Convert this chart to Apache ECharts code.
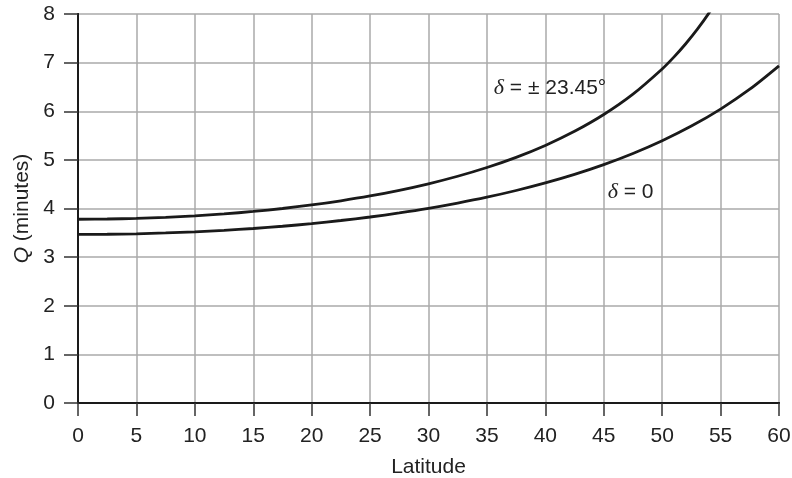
<!DOCTYPE html>
<html>
<head>
<meta charset="utf-8">
<script src="https://cdn.jsdelivr.net/npm/echarts@6/dist/echarts.min.js"></script>
<style>
html,body{margin:0;padding:0;background:#fff;}
#chart{width:792px;height:478px;}
</style>
</head>
<body>
<div id="chart"></div>
<script>
// Latitude (degrees) and Q (minutes)
const latZero = [0, 2.5, 5, 7.5, 10, 12.5, 15, 17.5, 20, 22.5, 25, 27.5, 30, 32.5, 35, 37.5, 40, 42.5, 45, 47.5, 50, 52.5, 55, 57.5, 60];
const qZero   = [3.467, 3.470, 3.480, 3.497, 3.520, 3.551, 3.589, 3.635, 3.689, 3.753, 3.825, 3.909, 4.003, 4.111, 4.232, 4.370, 4.526, 4.702, 4.903, 5.132, 5.394, 5.695, 6.045, 6.453, 6.934];

const latDecl = [0, 2.5, 5, 7.5, 10, 12.5, 15, 17.5, 20, 22.5, 25, 27.5, 30, 32.5, 35, 37.5, 40, 42.5, 45, 47.5, 50, 51, 52, 53, 54, 55];
const qDecl   = [3.779, 3.784, 3.797, 3.818, 3.849, 3.889, 3.939, 4.000, 4.073, 4.159, 4.258, 4.374, 4.508, 4.663, 4.843, 5.052, 5.297, 5.587, 5.933, 6.352, 6.870, 7.113, 7.383, 7.682, 8.018, 8.397];

const xTicks = [0, 5, 10, 15, 20, 25, 30, 35, 40, 45, 50, 55, 60];
const yTicks = [0, 1, 2, 3, 4, 5, 6, 7, 8];

// curve label anchors (data coordinates, label centre)
const labelDecl = [40.4, 6.48];
const labelZero = [47.3, 4.33];

const pairs = (xs, ys) => xs.map((x, i) => [x, ys[i]]);
const FONT = 'Liberation Sans, Arial, sans-serif';
const FS = 21;
const INK = '#222';

const frameAxis = {
  type: 'value', axisLabel: {show: false}, axisTick: {show: false}, splitLine: {show: false},
  axisLine: {show: true, lineStyle: {color: '#1a1a1a', width: 2}}
};

const labelRich = {
  d: {fontFamily: 'Liberation Serif, serif', fontStyle: 'italic', fontSize: FS + 1, color: INK},
  s: {fontFamily: FONT, fontSize: FS, color: INK}
};

const chart = echarts.init(document.getElementById('chart'), null, {renderer: 'canvas'});
chart.setOption({
  animation: false,
  grid: {left: 78, right: 13, top: 14, bottom: 75, show: false, containLabel: false, outerBoundsMode: 'none'},
  xAxis: [{
    type: 'value', min: xTicks[0], max: xTicks[xTicks.length - 1], interval: 5,
    name: 'Latitude', nameLocation: 'middle', nameGap: 54,
    nameTextStyle: {fontFamily: FONT, fontSize: FS, color: INK},
    axisLine: {show: true, lineStyle: {color: '#1a1a1a', width: 2}},
    axisTick: {show: true, length: 13, lineStyle: {color: '#333', width: 1.5}},
    axisLabel: {fontFamily: FONT, fontSize: FS, color: INK, margin: 23},
    splitLine: {show: true, lineStyle: {color: '#aaa', width: 1.5}}
  }, Object.assign({}, frameAxis, {position: 'top', min: xTicks[0], max: xTicks[xTicks.length - 1]})],
  yAxis: [{
    type: 'value', min: yTicks[0], max: yTicks[yTicks.length - 1], interval: 1,
    name: '{q|Q} (minutes)', nameLocation: 'middle', nameGap: 44,
    nameTextStyle: {fontFamily: FONT, fontSize: FS, color: INK,
      rich: {q: {fontFamily: FONT, fontStyle: 'italic', fontSize: FS, color: INK}}},
    axisLine: {show: true, lineStyle: {color: '#1a1a1a', width: 2}},
    axisTick: {show: true, length: 14, lineStyle: {color: '#333', width: 1.5}},
    axisLabel: {fontFamily: FONT, fontSize: FS, color: INK, margin: 23},
    splitLine: {show: true, lineStyle: {color: '#aaa', width: 1.5}}
  }, Object.assign({}, frameAxis, {position: 'right', min: yTicks[0], max: yTicks[yTicks.length - 1]})],
  series: [
    {
      type: 'line', data: pairs(latZero, qZero), smooth: 0.3, showSymbol: false, symbol: 'none',
      lineStyle: {color: '#1a1a1a', width: 2.8}, clip: true,
      markPoint: {
        symbol: 'circle', symbolSize: 0, silent: true,
        data: [{coord: labelZero, label: {show: true, position: 'inside',
          formatter: '{d|δ}{s| = 0}', rich: labelRich}}]
      }
    },
    {
      type: 'line', data: pairs(latDecl, qDecl), smooth: 0.3, showSymbol: false, symbol: 'none',
      lineStyle: {color: '#1a1a1a', width: 2.8}, clip: true,
      markPoint: {
        symbol: 'circle', symbolSize: 0, silent: true,
        data: [{coord: labelDecl, label: {show: true, position: 'inside',
          formatter: '{d|δ}{s| = ± 23.45°}', rich: labelRich}}]
      }
    }
  ]
});
</script>
</body>
</html>
